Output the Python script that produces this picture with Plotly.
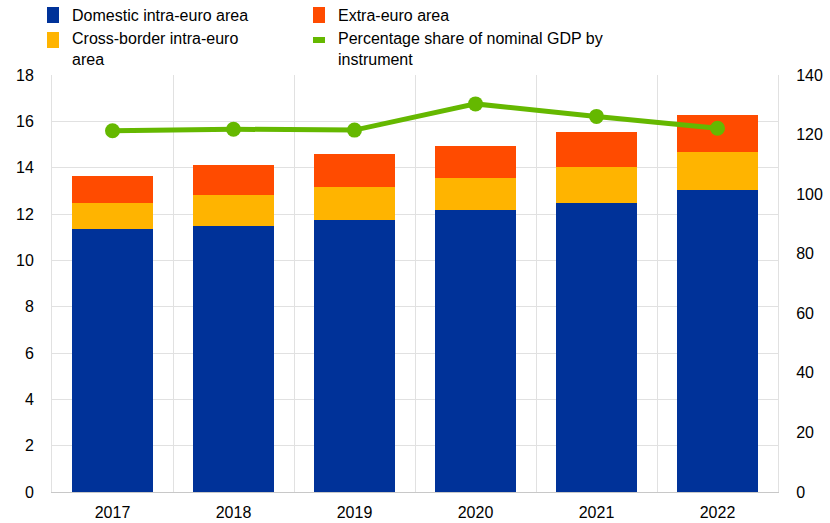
import plotly.graph_objects as go

# Annual values (EUR trillions) by holder location, and share of nominal GDP (%)
years = [2017, 2018, 2019, 2020, 2021, 2022]
domestic = [11.34, 11.48, 11.73, 12.16, 12.48, 13.04]
cross_border = [1.15, 1.33, 1.42, 1.38, 1.54, 1.63]
extra_euro = [1.13, 1.31, 1.42, 1.39, 1.53, 1.61]
gdp_share = [121.3, 121.8, 121.5, 130.3, 126.1, 122.1]

labels = [
    "Domestic intra-euro area",
    "Cross-border intra-euro<br>area",
    "Extra-euro area",
    "Percentage share of nominal GDP by<br>instrument",
]
colors = ["#003299", "#FFB400", "#FF4B00", "#65B800"]

FONT = "Arial, Liberation Sans, sans-serif"
W, H = 830, 523
ML, MR, MT, MB = 52, 52, 75, 31
PW, PH = W - ML - MR, H - MT - MB
GRID = "#e1e1e1"


def px_x(x):
    return (x - ML) / PW


def px_y(y):
    return (H - MB - y) / PH


fig = go.Figure()
for vals, name, col in zip([domestic, cross_border, extra_euro], labels[:3], colors[:3]):
    fig.add_trace(go.Bar(x=years, y=vals, name=name, marker=dict(color=col, line=dict(width=0)),
                         showlegend=False))

fig.add_trace(go.Scatter(x=years, y=gdp_share, name=labels[3], yaxis="y2", mode="lines+markers",
                         line=dict(color=colors[3], width=5),
                         marker=dict(color=colors[3], size=15), showlegend=False))

# Legend drawn as swatches + text in two columns
legend_items = [
    (47, 15, "box", 0),
    (47, 40, "box", 1),
    (313, 15, "box", 2),
    (313, 40, "line", 3),
]
text_pos = {0: (70, 15), 1: (70, 49), 2: (336, 15), 3: (336, 49)}
for sx, sy, kind, i in legend_items:
    hh = 8 if kind == "box" else 3
    fig.add_shape(type="rect", xref="paper", yref="paper",
                  x0=px_x(sx), x1=px_x(sx + 12), y0=px_y(sy + hh), y1=px_y(sy - hh),
                  fillcolor=colors[i], line=dict(width=0))
    tx, ty = text_pos[i]
    fig.add_annotation(xref="paper", yref="paper", x=px_x(tx), y=px_y(ty), text=labels[i],
                       showarrow=False, xanchor="left", yanchor="middle", align="left",
                       font=dict(family=FONT, size=16, color="#000000"))

fig.update_layout(
    width=W, height=H,
    margin=dict(l=ML, r=MR, t=MT, b=MB),
    barmode="stack", bargap=0.33,
    plot_bgcolor="white", paper_bgcolor="white",
    font=dict(family=FONT, size=16, color="#000000"),
    xaxis=dict(range=[2016.5, 2022.5], tickmode="array", tickvals=years,
               ticktext=[str(y) for y in years], showgrid=False, automargin=False,
               showline=True, linecolor="#c8c8c8", linewidth=1,
               ticks="", ticklabelstandoff=6,
               minor=dict(tick0=2016.5, dtick=1, showgrid=True, gridcolor=GRID, gridwidth=1),
               zeroline=False, fixedrange=True),
    yaxis=dict(range=[0, 18], dtick=2, showgrid=True, gridcolor=GRID, gridwidth=1,
               automargin=False, zeroline=False, ticks="", ticklabelstandoff=14,
               showline=True, linecolor=GRID, linewidth=1),
    yaxis2=dict(range=[0, 140], dtick=20, overlaying="y", side="right", showgrid=False,
                automargin=False, zeroline=False, ticks="", ticklabelstandoff=14,
                showline=True, linecolor=GRID, linewidth=1),
)

fig.write_html("out.html")
